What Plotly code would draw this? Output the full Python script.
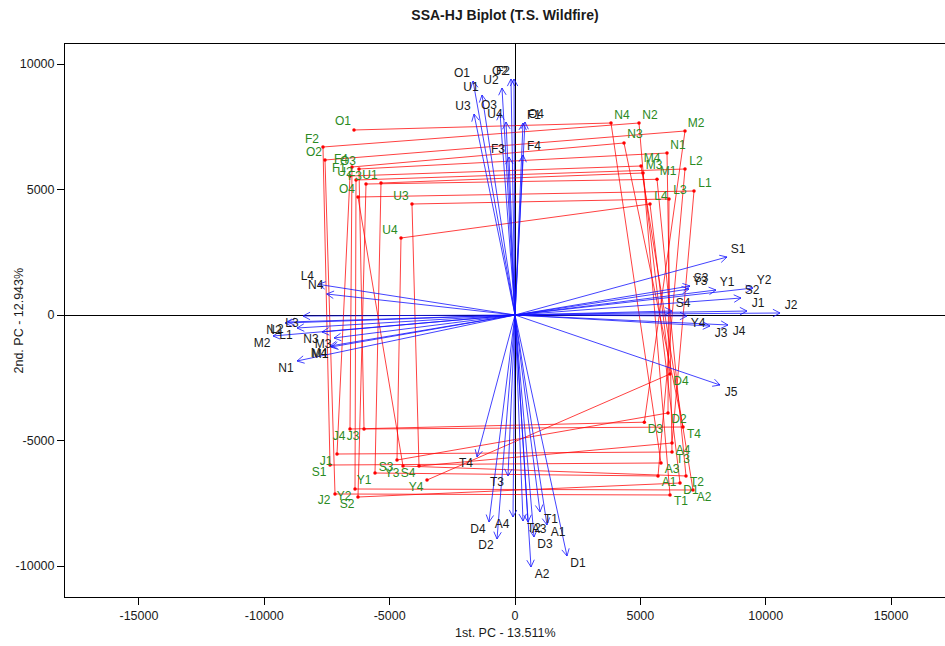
import math
import plotly.graph_objects as go

# ---- site scores (row points) ----
site_names = ["O1", "F2", "O2", "F4", "O3", "F1", "U2", "F3", "U1", "O4", "U3", "U4",
              "N4", "N2", "M2", "N3", "N1", "M4", "M3", "M1", "L2", "L1", "L3", "L4",
              "D4", "D2", "D3", "T4", "A4", "T3", "A3", "A1", "T2", "D1", "A2", "T1",
              "J4", "J3", "J1", "S1", "S3", "Y3", "S4", "Y1", "Y4", "Y2", "J2", "S2"]
site_x = [-6422, -7659, -7579, -6502, -6223, -6582, -6342, -5943, -5345, -6263, -4109, -4547,
          3829, 4946, 6781, 4348, 6063, 5026, 5106, 5665, 6781, 7140, 6143, 5385,
          6183, 6103, 5159, 6701, 6263, 6263, 5824, 5704, 6821, 6582, 7100, 6183,
          -6582, -6023, -7100, -7379, -4707, -4468, -3829, -5584, -3510, -6382, -7180, -6263]
site_y = [7371, 6693, 6175, 5896, 5817, 5538, 5378, 5219, 5259, 4701, 4422, 3068,
          7649, 7649, 7331, 6853, 6454, 5936, 5657, 5406, 5817, 4940, 4622, 4422,
          -2351, -3904, -4271, -4462, -5100, -5458, -5896, -6414, -6414, -6693, -6972, -7171,
          -4542, -4542, -5538, -5976, -5777, -6016, -6016, -6295, -6574, -6932, -7131, -7251]

# order in which the site points are joined
site_order = ["O1", "N4", "A3", "S1", "F2", "N2", "T1", "J2", "O2", "M2", "D3", "J4",
              "F4", "N3", "T4", "J3", "O3", "N1", "T3", "J1", "F1", "M4", "A2", "Y2",
              "U2", "L2", "A1", "Y1", "U1", "M3", "D1", "S2", "F3", "M1", "T2", "Y3",
              "O4", "L1", "A4", "S4", "U3", "L3", "D2", "S3", "U4", "L4", "D4", "Y4"]

# ---- variable loadings (arrows) ----
var_names = ["O1", "U1", "U2", "O2", "F2", "U3", "O3", "U4", "F1", "O4", "F3", "F4",
             "L4", "N4", "L3", "N2", "L2", "L1", "M2", "N3", "M3", "M4", "M1", "N1",
             "S1", "S3", "Y3", "Y1", "Y2", "S2", "J1", "J2", "S4", "Y4", "J3", "J4", "J5",
             "T4", "T3", "D4", "A4", "D2", "T2", "A3", "T1", "A1", "D3", "A2", "D1"]
var_x = [-1675, -1316, -519, -160, -40, -1635, -598, -359, 319, 399, -239, 319,
         -7846, -7512, -8456, -9174, -9055, -8696, -9653, -7699, -7220, -7380, -7340, -8696,
         8457, 6981, 6941, 8018, 9494, 9015, 9254, 10571, 6263, 6861, 7778, 8496, 8177,
         -1516, -279, -1037, -80, -718, 319, 519, 997, 1276, 758, 638, 2074]
var_y = [9323, 8765, 9044, 9402, 9402, 8008, 8048, 7689, 7649, 7689, 6295, 6375,
         1223, 837, -40, -319, -279, -518, -837, -677, -916, -1235, -1275, -1833,
         2311, 1155, 1036, 996, 1076, 677, 159, 80, 159, -40, -438, -398, -2789,
         -5657, -6414, -8247, -8048, -8924, -8207, -8247, -7849, -8367, -8845, -10040, -9602]

x_ticks = [-15000, -10000, -5000, 0, 5000, 10000, 15000]
y_ticks = [-10000, -5000, 0, 5000, 10000]

title_text = "SSA-HJ Biplot (T.S. Wildfire)"
x_title = "1st. PC - 13.511%"
y_title = "2nd. PC - 12.943%"

# ---- geometry of the plotting region ----
W, H = 945, 646
ML, MR, MT, MB = 65, 0, 44, 49
X_RANGE = [-17950, 17152]
Y_RANGE = [-11235, 10797]
sx = (W - ML - MR) / (X_RANGE[1] - X_RANGE[0])   # px per unit
sy = (H - MT - MB) / (Y_RANGE[1] - Y_RANGE[0])

LAB_DX = 11 / sx      # label offset away from the origin
LAB_DY = 7.5 / sy


def sgn(v):
    return 1 if v >= 0 else -1


fig = go.Figure()

# red path through the site points
pos = {n: (x, y) for n, x, y in zip(site_names, site_x, site_y)}
path_x = [pos[n][0] for n in site_order]
path_y = [pos[n][1] for n in site_order]
fig.add_trace(go.Scatter(x=path_x, y=path_y, mode="lines",
                         line=dict(color="rgba(255,0,0,0.75)", width=1),
                         hoverinfo="skip", showlegend=False))
fig.add_trace(go.Scatter(x=site_x, y=site_y, mode="markers",
                         marker=dict(color="red", size=3.5),
                         hoverinfo="skip", showlegend=False))

# blue arrows from the origin with open heads
HEAD = 8
ANG = math.radians(28)
ax_, ay_ = [], []
hx_, hy_ = [], []
for X, Y in zip(var_x, var_y):
    ax_ += [0, X, None]
    ay_ += [0, Y, None]
    px, py = X * sx, Y * sy
    a = math.atan2(py, px)
    p1 = (X - HEAD * math.cos(a + ANG) / sx, Y - HEAD * math.sin(a + ANG) / sy)
    p2 = (X - HEAD * math.cos(a - ANG) / sx, Y - HEAD * math.sin(a - ANG) / sy)
    hx_ += [p1[0], X, p2[0], None]
    hy_ += [p1[1], Y, p2[1], None]
fig.add_trace(go.Scatter(x=ax_, y=ay_, mode="lines",
                         line=dict(color="rgba(20,20,255,0.8)", width=1),
                         hoverinfo="skip", showlegend=False))
fig.add_trace(go.Scatter(x=hx_, y=hy_, mode="lines",
                         line=dict(color="rgba(20,20,255,0.8)", width=1),
                         hoverinfo="skip", showlegend=False))

# labels
FONT = "Liberation Sans, Arial, sans-serif"
fig.add_trace(go.Scatter(
    x=[x + sgn(x) * LAB_DX for x in site_x],
    y=[y + sgn(y) * LAB_DY for y in site_y],
    text=site_names, mode="text", textposition="middle center",
    textfont=dict(family=FONT, size=12, color="#2a8a22"),
    hoverinfo="skip", showlegend=False))
fig.add_trace(go.Scatter(
    x=[x + sgn(x) * LAB_DX for x in var_x],
    y=[y + sgn(y) * LAB_DY for y in var_y],
    text=var_names, mode="text", textposition="middle center",
    textfont=dict(family=FONT, size=12, color="#1a1a1a"),
    hoverinfo="skip", showlegend=False))

axis_common = dict(showgrid=False, zeroline=True, zerolinecolor="black", zerolinewidth=1,
                   showline=True, linecolor="black", linewidth=1, mirror=True,
                   ticks="outside", ticklen=7, tickcolor="black", tickwidth=1,
                   tickfont=dict(family=FONT, size=12.5, color="#1a1a1a"))

fig.update_layout(
    width=W, height=H,
    margin=dict(l=ML, r=MR, t=MT, b=MB),
    paper_bgcolor="white", plot_bgcolor="white",
    xaxis=dict(range=X_RANGE, tickvals=x_ticks, ticktext=[str(v) for v in x_ticks], **axis_common),
    yaxis=dict(range=Y_RANGE, tickvals=y_ticks, ticktext=[str(v) for v in y_ticks], **axis_common),
    title=dict(text="<b>" + title_text + "</b>", x=0.5, xref="paper", y=1 - 15 / H,
               yref="container", yanchor="middle",
               font=dict(family=FONT, size=14, color="#1a1a1a")),
    annotations=[
        dict(text=x_title, xref="paper", yref="paper", x=0.5, y=0, yshift=-36,
             showarrow=False, yanchor="middle", font=dict(family=FONT, size=12.5, color="#1a1a1a")),
        dict(text=y_title, xref="paper", yref="paper", x=0, y=0.5, xshift=-47,
             showarrow=False, textangle=-90, xanchor="center", yanchor="middle",
             font=dict(family=FONT, size=12.5, color="#1a1a1a")),
    ],
)

fig.write_html("out.html")
